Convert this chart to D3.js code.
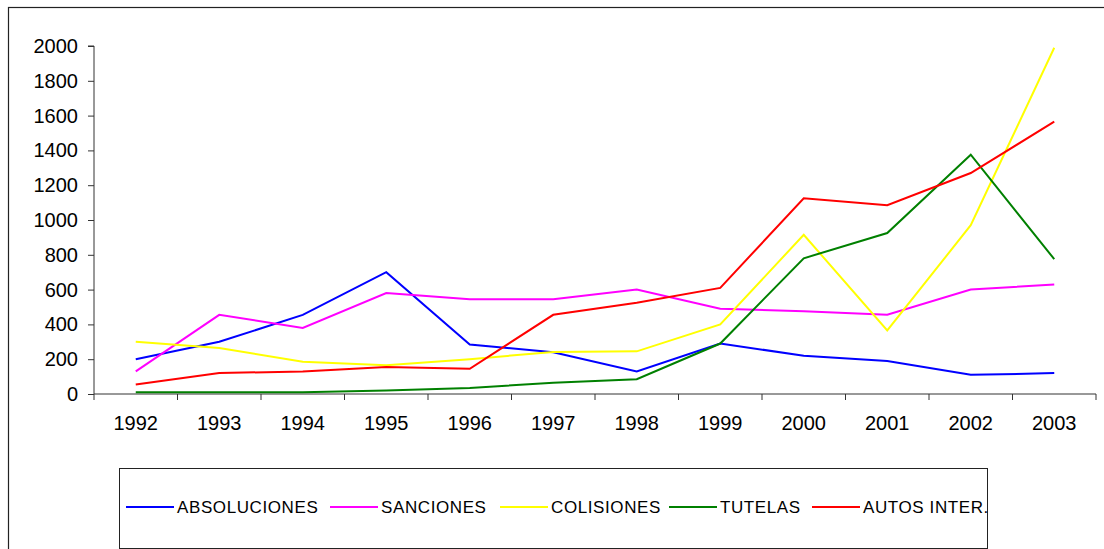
<!DOCTYPE html>
<html>
<head>
<meta charset="utf-8">
<script src="https://cdn.jsdelivr.net/npm/d3@7"></script>
<style>
  html, body { margin: 0; padding: 0; background: #fff; }
  svg { display: block; }
  text { font-family: "Liberation Sans", Arial, sans-serif; fill: #000; }
</style>
</head>
<body>
<svg id="chart" width="1104" height="549"></svg>
<script>
const years = ["1992","1993","1994","1995","1996","1997","1998","1999","2000","2001","2002","2003"];
const seriesNames = ["ABSOLUCIONES","SANCIONES","COLISIONES","TUTELAS","AUTOS INTER."];
const seriesColors = ["#0000ff","#ff00ff","#ffff00","#008000","#ff0000"];
const absoluciones = [200, 300, 455, 700, 285, 240, 130, 290, 220, 190, 110, 120];
const sanciones    = [130, 455, 380, 580, 545, 545, 600, 490, 475, 455, 600, 630];
const colisiones   = [300, 265, 185, 165, 200, 242, 245, 400, 915, 365, 970, 1990];
const tutelas      = [10, 10, 10, 20, 35, 65, 85, 290, 780, 925, 1375, 775];
const autosInter   = [55, 120, 130, 155, 145, 455, 525, 610, 1125, 1085, 1270, 1565];
const yTicks = [0, 200, 400, 600, 800, 1000, 1200, 1400, 1600, 1800, 2000];

const seriesValues = [absoluciones, sanciones, colisiones, tutelas, autosInter];

const svg = d3.select("#chart");

// outer frame
svg.append("rect")
  .attr("x", 8.5).attr("y", 7.5)
  .attr("width", 1110).attr("height", 560)
  .attr("fill", "none").attr("stroke", "#222").attr("stroke-width", 1.2);

const x = d3.scaleBand().domain(years).range([94, 1096]).padding(0);
const y = d3.scaleLinear().domain([0, 2000]).range([394, 46]);

// Y axis
const yAxis = d3.axisLeft(y).tickValues(yTicks).tickSize(6).tickPadding(10).tickFormat(d3.format("d"));
const gy = svg.append("g").attr("transform", "translate(94,0)").call(yAxis);
gy.select(".domain").attr("stroke", "#333").attr("d", `M-6,${y(2000)}H0V${y(0)}`);
gy.selectAll(".tick line").attr("stroke", "#333");
gy.selectAll(".tick text").style("font-size", "20px").attr("fill", "#000");

// X axis (labels centered in bands, ticks at band edges)
const gx = svg.append("g").attr("transform", `translate(0,${y(0)})`)
  .call(d3.axisBottom(x).tickSize(0).tickPadding(22));
gx.select(".domain").attr("stroke", "#333").attr("d", `M${x.range()[0]},0H${x.range()[1]}`);
gx.selectAll(".tick text").style("font-size", "20px").attr("fill", "#000");
const edges = years.map(d => x(d)).concat([x.range()[1]]);
gx.selectAll("line.edge").data(edges).enter().append("line")
  .attr("class", "edge")
  .attr("x1", d => d).attr("x2", d => d)
  .attr("y1", 0).attr("y2", 6)
  .attr("stroke", "#333");

// lines
const line = d3.line()
  .x((d, i) => x(years[i]) + x.bandwidth() / 2)
  .y(d => y(d));

seriesValues.forEach((vals, k) => {
  svg.append("path")
    .datum(vals)
    .attr("d", line)
    .attr("fill", "none")
    .attr("stroke", seriesColors[k])
    .attr("stroke-width", 2)
    .attr("stroke-linejoin", "miter");
});

// legend
svg.append("rect")
  .attr("x", 119.5).attr("y", 468.5)
  .attr("width", 868).attr("height", 80)
  .attr("fill", "#fff").attr("stroke", "#222").attr("stroke-width", 1);

const legendX = [126, 330, 500, 669, 812];
const lg = svg.append("g");
seriesNames.forEach((name, k) => {
  lg.append("line")
    .attr("x1", legendX[k]).attr("x2", legendX[k] + 48)
    .attr("y1", 507).attr("y2", 507)
    .attr("stroke", seriesColors[k]).attr("stroke-width", 2);
  lg.append("text")
    .attr("x", legendX[k] + 51).attr("y", 512.5)
    .style("font-size", "17px")
    .style("letter-spacing", "0.6px")
    .text(name);
});
</script>
</body>
</html>
